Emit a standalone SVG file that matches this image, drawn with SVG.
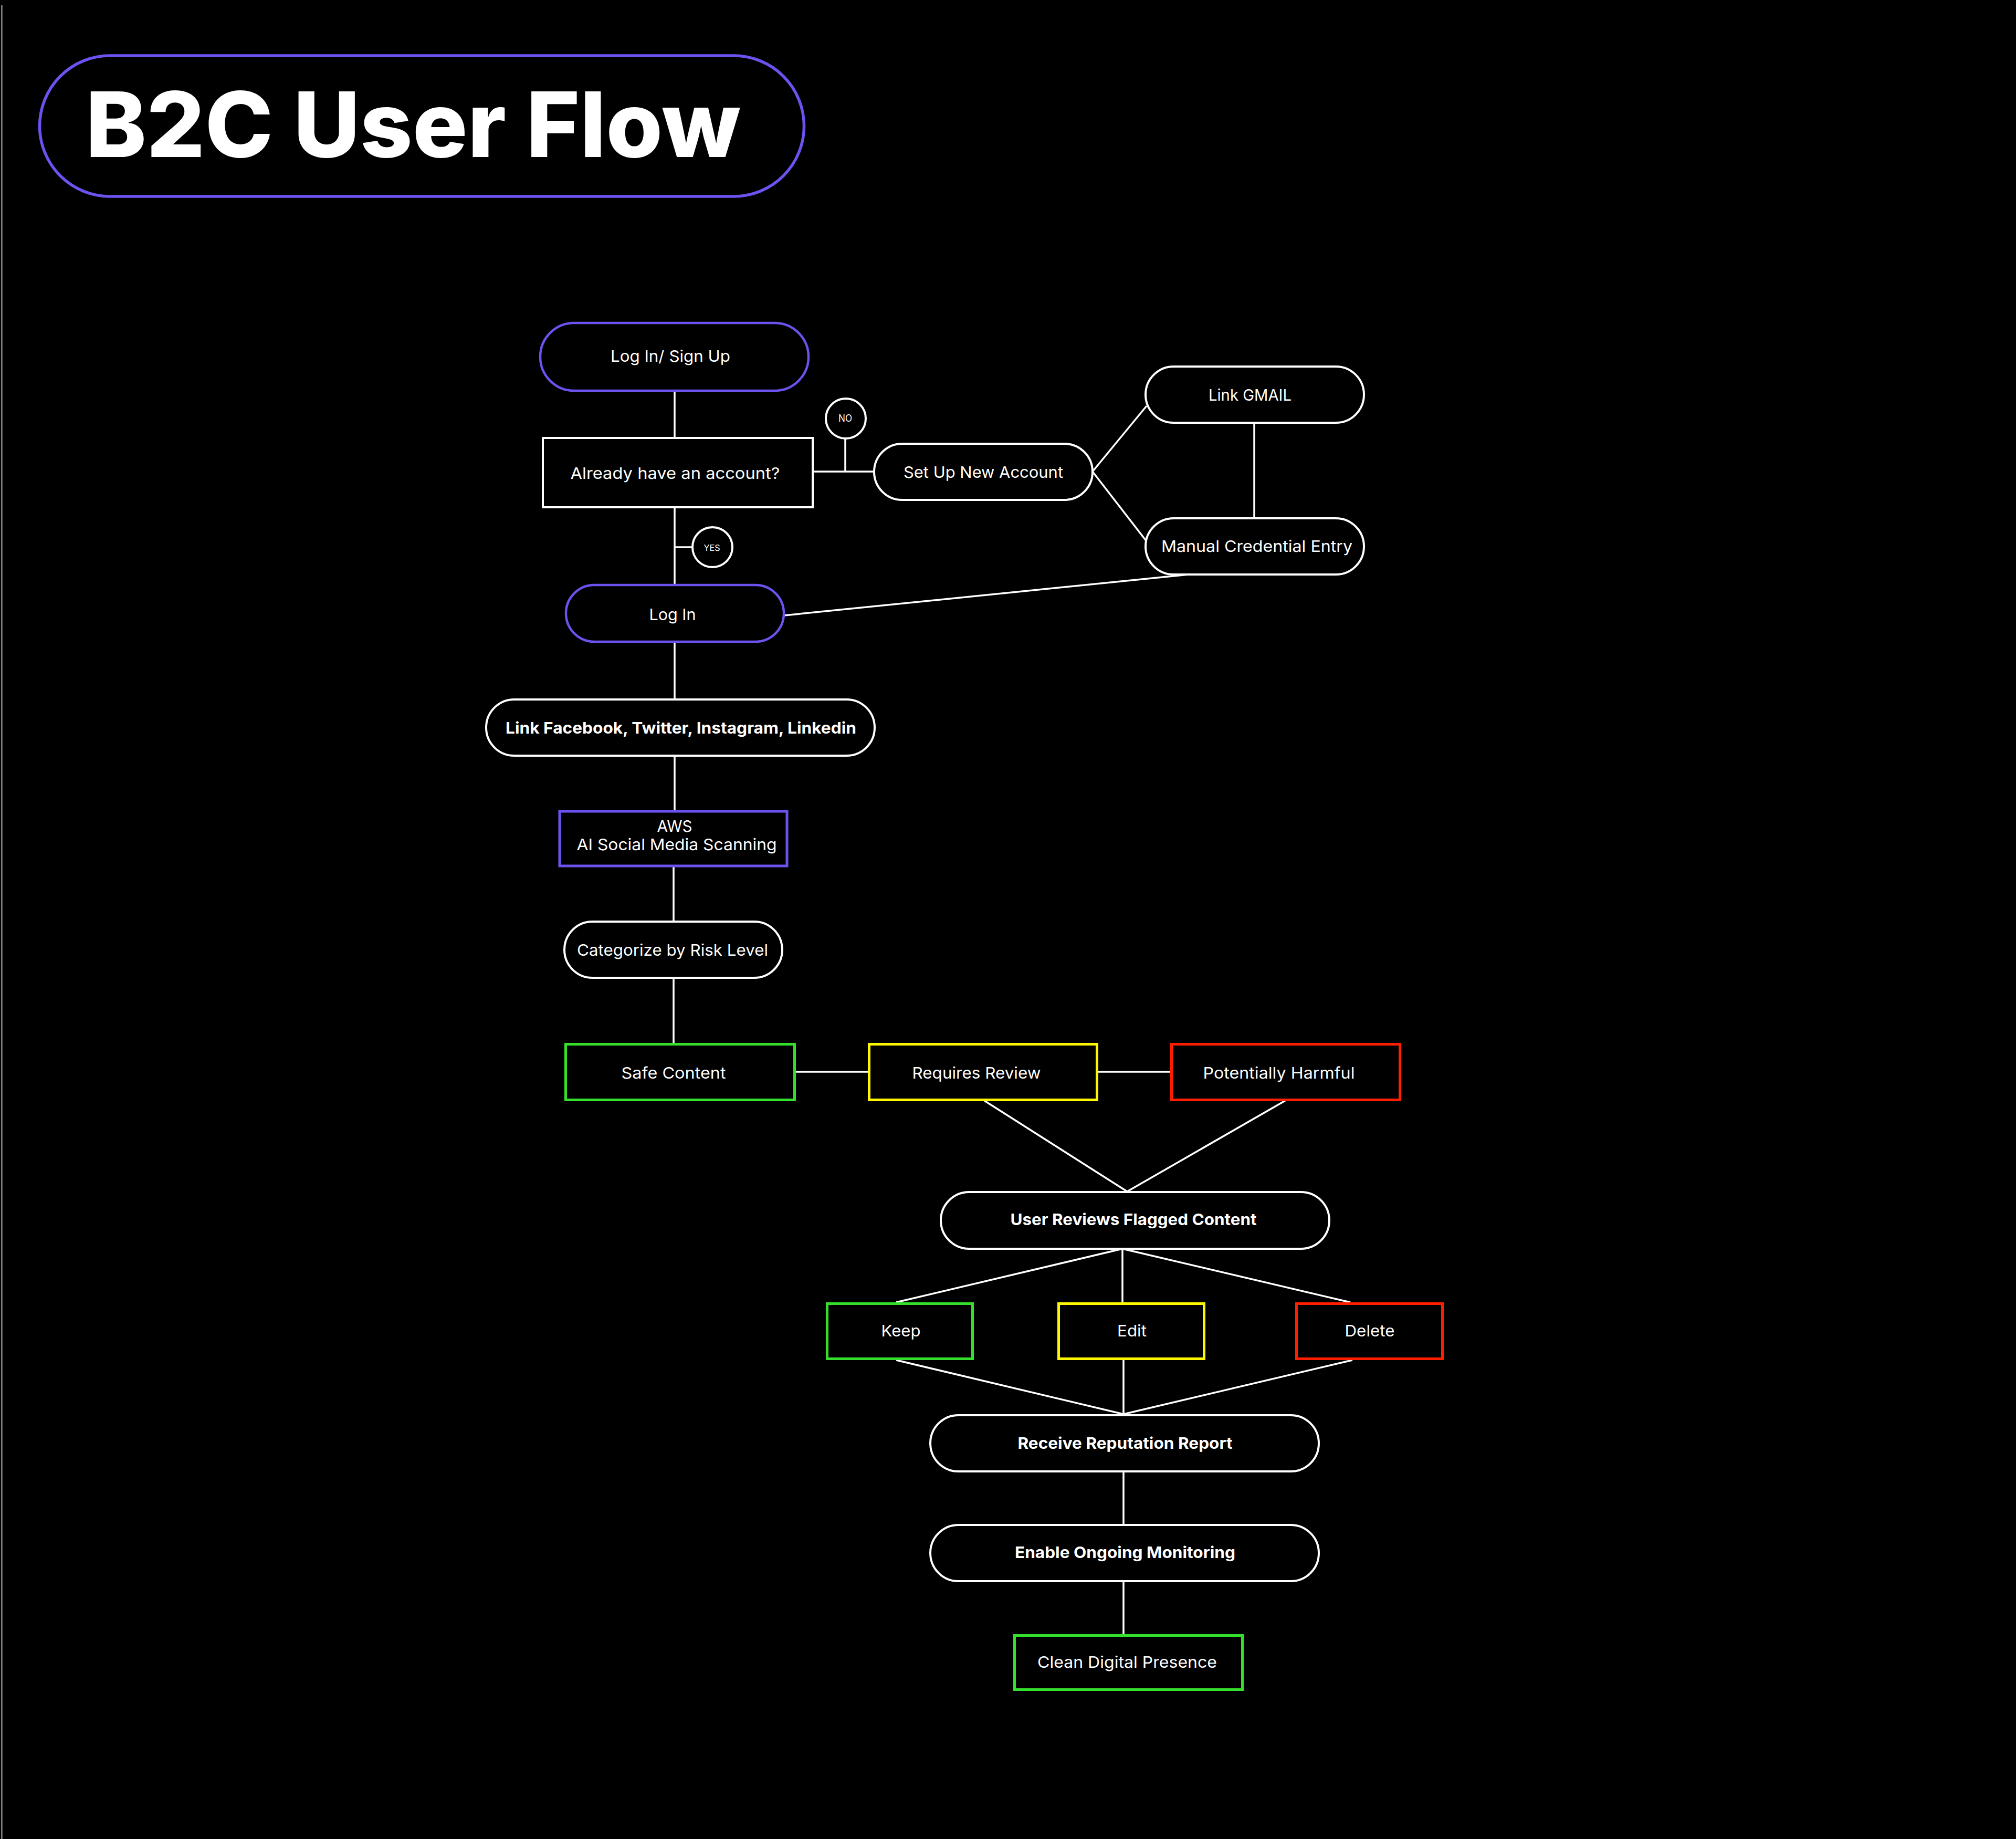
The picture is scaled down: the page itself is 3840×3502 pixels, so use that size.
<svg xmlns="http://www.w3.org/2000/svg" width="3840" height="3502" viewBox="0 0 3840 3502">
<style>
.t{font-family:"Inter","Noto Sans","Liberation Sans",sans-serif;font-size:30px;fill:#fff;text-anchor:middle}
.b{font-weight:700}
.pill{fill:#000;stroke:#fff;stroke-width:4}
.pp{fill:#000;stroke:#6e52f0;stroke-width:4.5}
.box{fill:#000;stroke:#fff;stroke-width:4}
.g{fill:#000;stroke:#34e02c;stroke-width:5}
.y{fill:#000;stroke:#fff700;stroke-width:5}
.r{fill:#000;stroke:#ff1e00;stroke-width:5}
.c line{stroke:#fff;stroke-width:3.5}
</style>
<rect width="3840" height="3502" fill="#000"/>
<line x1="3.5" y1="10" x2="3.5" y2="3502" stroke="#b8b8b8" stroke-width="2"/>
<g id="connectors" class="c">
<line x1="1285" y1="744" x2="1285" y2="834"/>
<line x1="1548" y1="898" x2="1665" y2="898"/>
<line x1="1610" y1="835" x2="1610" y2="898"/>
<line x1="1285" y1="966" x2="1285" y2="1114"/>
<line x1="1285" y1="1042" x2="1319" y2="1042"/>
<line x1="2081" y1="898" x2="2184" y2="773"/>
<line x1="2081" y1="898" x2="2184" y2="1031"/>
<line x1="2389" y1="805" x2="2389" y2="987"/>
<line x1="1493" y1="1172" x2="2264" y2="1094"/>
<line x1="1285" y1="1222" x2="1285" y2="1332"/>
<line x1="1285" y1="1439" x2="1285" y2="1543"/>
<line x1="1283" y1="1651" x2="1283" y2="1755"/>
<line x1="1283" y1="1862" x2="1283" y2="1988"/>
<line x1="1515" y1="2041" x2="1654" y2="2041"/>
<line x1="2092" y1="2041" x2="2229" y2="2041"/>
<line x1="1875" y1="2096" x2="2147" y2="2269"/>
<line x1="2448" y1="2096" x2="2147" y2="2269"/>
<line x1="2138" y1="2378" x2="1707" y2="2480"/>
<line x1="2138" y1="2378" x2="2138" y2="2480"/>
<line x1="2138" y1="2378" x2="2572" y2="2480"/>
<line x1="1707" y1="2590" x2="2140" y2="2693"/>
<line x1="2140" y1="2590" x2="2140" y2="2693"/>
<line x1="2576" y1="2590" x2="2140" y2="2693"/>
<line x1="2140" y1="2802" x2="2140" y2="2904"/>
<line x1="2140" y1="3011" x2="2140" y2="3112"/>
</g>
<g id="title">
<rect x="75.5" y="106" width="1456" height="268" rx="134" fill="#000" stroke="#6e52f0" stroke-width="5.5"/>
<text x="163" y="299" class="t" style="font-size:172px;font-weight:800;text-anchor:start" textLength="1248" lengthAdjust="spacingAndGlyphs">B2C User Flow</text>
</g>
<g id="login-signup">
<rect x="1029" y="615" width="511" height="129" rx="64.5" class="pp"/>
<text x="1277" y="689" class="t" textLength="228" lengthAdjust="spacingAndGlyphs">Log In/ Sign Up</text>
</g>
<g id="account-question">
<rect x="1034" y="834" width="514" height="132" class="box"/>
<text x="1286" y="912" class="t" textLength="399" lengthAdjust="spacingAndGlyphs">Already have an account?</text>
</g>
<g id="no-badge">
<circle cx="1611" cy="797" r="38" class="box"/>
<text x="1610" y="803" class="t" style="font-size:18px" textLength="26" lengthAdjust="spacingAndGlyphs">NO</text>
</g>
<g id="yes-badge">
<circle cx="1357" cy="1042" r="38" class="box"/>
<text x="1356" y="1049" class="t" style="font-size:16px" textLength="31" lengthAdjust="spacingAndGlyphs">YES</text>
</g>
<g id="setup-account">
<rect x="1665" y="845" width="416" height="107" rx="53.5" class="pill"/>
<text x="1873" y="910" class="t" textLength="304" lengthAdjust="spacingAndGlyphs">Set Up New Account</text>
</g>
<g id="link-gmail">
<rect x="2182" y="698" width="416" height="107" rx="53.5" class="pill"/>
<text x="2381" y="763" class="t" textLength="158" lengthAdjust="spacingAndGlyphs">Link GMAIL</text>
</g>
<g id="manual-entry">
<rect x="2182" y="987" width="416" height="107" rx="53.5" class="pill"/>
<text x="2394" y="1051" class="t" textLength="364" lengthAdjust="spacingAndGlyphs">Manual Credential Entry</text>
</g>
<g id="login">
<rect x="1078" y="1114" width="415" height="108" rx="54" class="pp"/>
<text x="1281" y="1181" class="t" textLength="89" lengthAdjust="spacingAndGlyphs">Log In</text>
</g>
<g id="link-social">
<rect x="926" y="1332" width="740" height="107" rx="53.5" class="pill"/>
<text x="1297" y="1397" class="t b" textLength="668" lengthAdjust="spacingAndGlyphs">Link Facebook, Twitter, Instagram, Linkedin</text>
</g>
<g id="aws-scan">
<rect x="1066" y="1545" width="433" height="104" class="pp" style="stroke-width:5"/>
<text x="1285" y="1584" class="t" textLength="67" lengthAdjust="spacingAndGlyphs">AWS</text>
<text x="1289" y="1619" class="t" textLength="381" lengthAdjust="spacingAndGlyphs">AI Social Media Scanning</text>
</g>
<g id="categorize">
<rect x="1075" y="1755" width="415" height="107" rx="53.5" class="pill"/>
<text x="1281" y="1820" class="t" textLength="364" lengthAdjust="spacingAndGlyphs">Categorize by Risk Level</text>
</g>
<g id="safe-content">
<rect x="1077.5" y="1988.5" width="436" height="106" class="g"/>
<text x="1283" y="2054" class="t" textLength="199" lengthAdjust="spacingAndGlyphs">Safe Content</text>
</g>
<g id="requires-review">
<rect x="1655.5" y="1988.5" width="434" height="106" class="y"/>
<text x="1860" y="2054" class="t" textLength="245" lengthAdjust="spacingAndGlyphs">Requires Review</text>
</g>
<g id="potentially-harmful">
<rect x="2231.5" y="1988.5" width="435" height="106" class="r"/>
<text x="2436" y="2054" class="t" textLength="289" lengthAdjust="spacingAndGlyphs">Potentially Harmful</text>
</g>
<g id="user-reviews">
<rect x="1792" y="2270" width="740" height="108" rx="54" class="pill"/>
<text x="2159" y="2333" class="t b" textLength="469" lengthAdjust="spacingAndGlyphs">User Reviews Flagged Content</text>
</g>
<g id="keep">
<rect x="1575.5" y="2482.5" width="277" height="105" class="g"/>
<text x="1716" y="2545" class="t" textLength="75" lengthAdjust="spacingAndGlyphs">Keep</text>
</g>
<g id="edit">
<rect x="2016.5" y="2482.5" width="277" height="105" class="y"/>
<text x="2156" y="2545" class="t" textLength="56" lengthAdjust="spacingAndGlyphs">Edit</text>
</g>
<g id="delete">
<rect x="2469.5" y="2482.5" width="278" height="105" class="r"/>
<text x="2609" y="2545" class="t" textLength="95" lengthAdjust="spacingAndGlyphs">Delete</text>
</g>
<g id="receive-report">
<rect x="1772" y="2695" width="740" height="107" rx="53.5" class="pill"/>
<text x="2143" y="2759" class="t b" textLength="409" lengthAdjust="spacingAndGlyphs">Receive Reputation Report</text>
</g>
<g id="enable-monitoring">
<rect x="1772" y="2904" width="740" height="107" rx="53.5" class="pill"/>
<text x="2143" y="2967" class="t b" textLength="420" lengthAdjust="spacingAndGlyphs">Enable Ongoing Monitoring</text>
</g>
<g id="clean-presence">
<rect x="1932.5" y="3114.5" width="434" height="103" class="g"/>
<text x="2147" y="3176" class="t" textLength="342" lengthAdjust="spacingAndGlyphs">Clean Digital Presence</text>
</g>
</svg>
